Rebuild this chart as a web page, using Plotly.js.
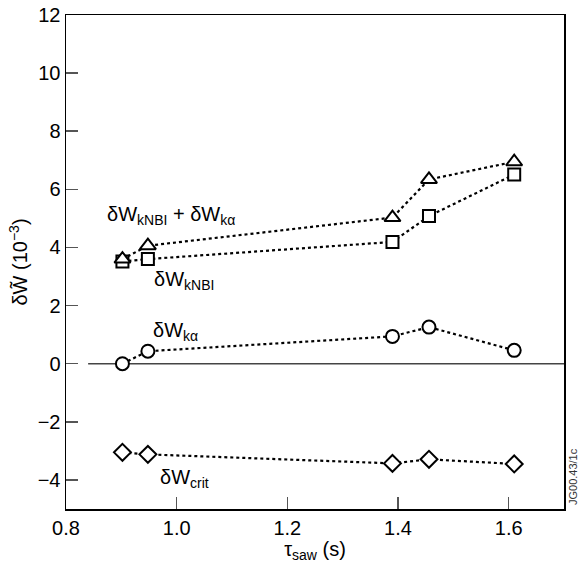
<!DOCTYPE html>
<html>
<head>
<meta charset="utf-8">
<script src="https://cdn.plot.ly/plotly-3.0.1.min.js"></script>
<style>html,body{margin:0;padding:0;background:#fff;}#chart{width:584px;height:563px;}</style>
</head>
<body>
<div id="chart"></div>
<script>
// Data
const tauSaw = [0.902, 0.948, 1.390, 1.456, 1.610];
const dWsum  = [3.60, 4.06, 5.03, 6.34, 6.95];   // dW_kNBI + dW_kalpha (triangles)
const dWkNBI = [3.52, 3.60, 4.19, 5.08, 6.51];   // squares
const dWkAlpha = [0.00, 0.43, 0.94, 1.26, 0.46]; // circles
const dWcrit = [-3.05, -3.12, -3.43, -3.29, -3.45]; // diamonds
const xTicks = [0.8, 1.0, 1.2, 1.4, 1.6];
const yTicks = [-4, -2, 0, 2, 4, 6, 8, 10, 12];

const FONT = 'Liberation Sans, Arial, sans-serif';

function series(y, symbol, size) {
  return {
    x: tauSaw, y: y, type: 'scatter', mode: 'lines+markers',
    line: {color: '#000', width: 2.2, dash: 'dot'},
    marker: {symbol: symbol, size: size, color: '#fff', line: {color: '#000', width: 2}},
    showlegend: false, hoverinfo: 'skip'
  };
}

const traces = [
  series(dWkNBI, 'square', 12),
  series(dWsum, 'triangle-up', 14),
  series(dWkAlpha, 'circle', 13),
  series(dWcrit, 'diamond', 13)
];

const zeroLineStart = 0.84;

const layout = {
  width: 584, height: 563,
  margin: {l: 66, r: 20, t: 15, b: 54},
  paper_bgcolor: '#fff', plot_bgcolor: '#fff',
  font: {family: FONT, color: '#000', size: 20},
  xaxis: {
    range: [0.8, 1.7], tickvals: xTicks, ticktext: xTicks.map(v => v.toFixed(1)),
    ticks: 'inside', ticklen: 12, tickwidth: 1.5, tickcolor: '#555',
    showline: true, linecolor: '#000', linewidth: 1.5, mirror: true,
    showgrid: false, zeroline: false,
    tickfont: {size: 20},
    title: {text: 'τ<sub>saw</sub> (s)', font: {size: 20}, standoff: 6}
  },
  yaxis: {
    range: [-5, 12], tickvals: yTicks,
    ticks: 'inside', ticklen: 12, tickwidth: 1.5, tickcolor: '#555',
    showline: true, linecolor: '#000', linewidth: 1.5, mirror: true,
    showgrid: false, zeroline: false,
    tickfont: {size: 20},
    title: {text: 'δW\u0303 (10<sup>−3</sup>)', font: {size: 20}, standoff: 4}
  },
  shapes: [{
    type: 'line', xref: 'x', yref: 'y', x0: zeroLineStart, x1: 1.7, y0: 0, y1: 0,
    line: {color: '#444', width: 1.5}, layer: 'below'
  }],
  annotations: [
    {x: 0.99, y: 5.1, xref: 'x', yref: 'y', text: 'δW<sub>kNBI</sub> + δW<sub>kα</sub>', showarrow: false, font: {size: 20}},
    {x: 1.013, y: 2.85, xref: 'x', yref: 'y', text: 'δW<sub>kNBI</sub>', showarrow: false, font: {size: 20}},
    {x: 0.998, y: 1.1, xref: 'x', yref: 'y', text: 'δW<sub>kα</sub>', showarrow: false, font: {size: 20}},
    {x: 1.014, y: -3.95, xref: 'x', yref: 'y', text: 'δW<sub>crit</sub>', showarrow: false, font: {size: 20}},
    {x: 1, y: -3.9, xref: 'paper', yref: 'y', xanchor: 'left', xshift: 1, text: 'JG00.43/1c', showarrow: false, textangle: -90, font: {size: 11, color: '#333'}}
  ]
};

Plotly.newPlot('chart', traces, layout, {staticPlot: true, displayModeBar: false});
</script>
</body>
</html>
